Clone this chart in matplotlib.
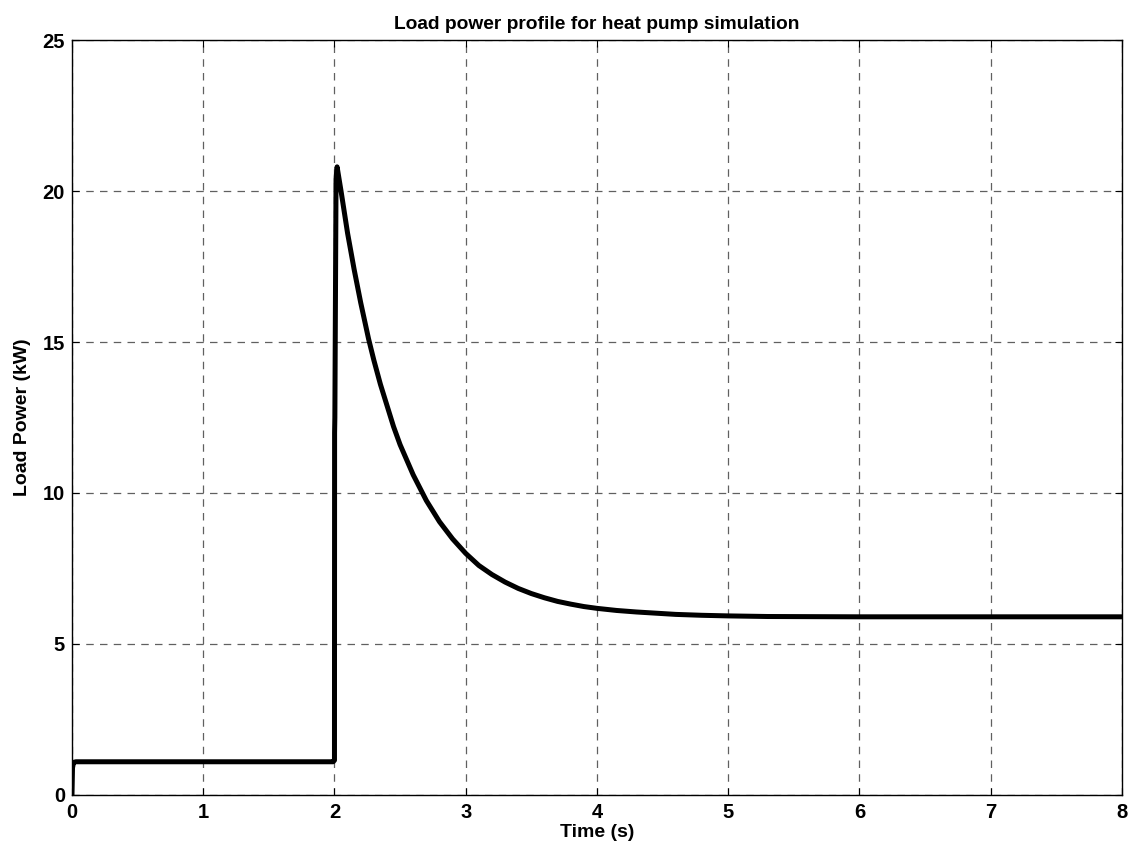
import matplotlib
matplotlib.use("Agg")
import matplotlib.pyplot as plt

plt.rcParams['font.family'] = ['Liberation Sans', 'DejaVu Sans']

# values
time_s = [0.0, 0.004, 0.012, 0.03, 1.0, 1.99, 2.0, 2.001, 2.003, 2.012, 2.02,
          2.05, 2.1, 2.15, 2.2, 2.26, 2.3, 2.35, 2.4, 2.45, 2.5, 2.55, 2.6, 2.7,
          2.8, 2.9, 3.0, 3.1, 3.2, 3.3, 3.4, 3.5, 3.6, 3.7, 3.8, 3.9, 4.0, 4.15,
          4.3, 4.45, 4.6, 4.8, 5.0, 5.3, 6.0, 7.0, 8.0]
load_kw = [0.0, 0.9, 1.08, 1.1, 1.1, 1.1, 1.15, 12.0, 12.5, 20.4, 20.8,
           20.0, 18.6, 17.4, 16.3, 15.1, 14.4, 13.6, 12.9, 12.2, 11.6, 11.1, 10.6, 9.75,
           9.05, 8.48, 8.0, 7.6, 7.3, 7.05, 6.84, 6.67, 6.53, 6.41, 6.32, 6.24, 6.18, 6.11,
           6.06, 6.02, 5.98, 5.95, 5.93, 5.91, 5.9, 5.9, 5.9]

x_ticks = [0, 1, 2, 3, 4, 5, 6, 7, 8]
y_ticks = [0, 5, 10, 15, 20, 25]

fig = plt.figure(figsize=(11.39, 8.55), dpi=100)
ax = fig.add_axes([0.0632, 0.0702, 0.9218, 0.8830])

ax.plot(time_s, load_kw, color='black', linewidth=3.6, solid_joinstyle='round')

ax.set_xlim(0, 8)
ax.set_ylim(0, 25)
ax.set_xticks(x_ticks)
ax.set_yticks(y_ticks)
ax.grid(True, color='#606060', linestyle=(0, (6, 5)), linewidth=0.9)
ax.tick_params(direction='in', top=True, right=True, length=5, labelsize=14.5)
ax.tick_params(axis='y', pad=5)
ax.tick_params(axis='x', pad=6)
for lbl in ax.get_xticklabels() + ax.get_yticklabels():
    lbl.set_fontweight('bold')
for s in ax.spines.values():
    s.set_linewidth(1.0)

ax.set_title('Load power profile for heat pump simulation', fontsize=13.8, fontweight='bold', pad=8)
ax.set_xlabel('Time (s)', fontsize=14, fontweight='bold', labelpad=1)
ax.set_ylabel('Load Power (kW)', fontsize=14, fontweight='bold', labelpad=8)

fig.savefig('out.png', dpi=100)
